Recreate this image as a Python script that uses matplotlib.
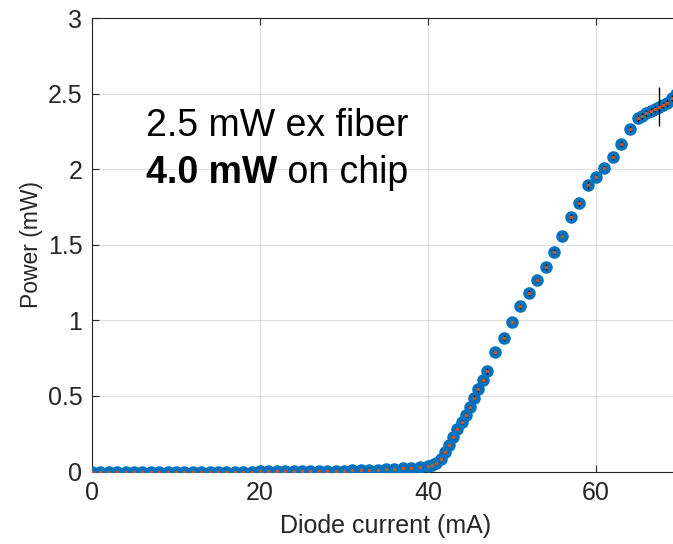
import numpy as np
import matplotlib.pyplot as plt

plt.rcParams['font.family'] = ['Liberation Sans', 'DejaVu Sans']

# diode current (mA)
current_low = [0, 1, 2, 3, 4, 5, 6, 7, 8, 9, 10, 11, 12, 13, 14, 15, 16, 17, 18, 19,
               20, 21, 22, 23, 24, 25, 26, 27, 28, 29, 30, 31, 32, 33, 34, 35, 36, 37, 38, 39, 40]
current_mid = [40.5, 41, 41.5, 42, 42.5, 43, 43.5, 44, 44.5, 45, 45.5, 46, 46.5, 47]
current_high = [48, 49, 50, 51, 52, 53, 54, 55, 56, 57, 58, 59, 60, 61, 62, 63, 64]
current_top = [65, 65.5, 66, 66.5, 67, 67.5, 68, 68.5, 69, 69.5]

# measured power (mW)
power_low = [0, 0, 0, 0, 0, 0, 0, 0, 0, 0, 0, 0, 0, 0, 0, 0, 0, 0, 0, 0,
             0.001, 0.001, 0.001, 0.002, 0.002, 0.002, 0.003, 0.003, 0.004, 0.005,
             0.006, 0.007, 0.008, 0.010, 0.012, 0.014, 0.017, 0.020, 0.025, 0.030, 0.037]
power_mid = [0.045, 0.055, 0.085, 0.13, 0.175, 0.228, 0.278, 0.327, 0.372, 0.426,
             0.488, 0.543, 0.603, 0.664]
power_high = [0.788, 0.886, 0.989, 1.093, 1.182, 1.265, 1.351, 1.454, 1.561, 1.684,
              1.777, 1.894, 1.949, 2.011, 2.081, 2.166, 2.263]
power_top = [2.336, 2.353, 2.369, 2.382, 2.395, 2.413, 2.424, 2.439, 2.468, 2.50]

# standard deviation (mW)
err_low = [0.002] * 41
err_mid = [0.003, 0.004, 0.006, 0.008, 0.008, 0.01, 0.01, 0.012, 0.012, 0.015,
           0.015, 0.015, 0.012, 0.02]
err_high = [0.012, 0.02, 0.008, 0.015, 0.02, 0.012, 0.02, 0.015, 0.008, 0.02,
            0.02, 0.025, 0.012, 0.012, 0.02, 0.02, 0.02]
err_top = [0.025, 0.02, 0.02, 0.025, 0.02, 0.13, 0.02, 0.025, 0.02, 0.02]

current = current_low + current_mid + current_high + current_top
power = power_low + power_mid + power_high + power_top
err = err_low + err_mid + err_high + err_top

blue = (0, 0.447, 0.741)
orange = (0.85, 0.325, 0.098)
grey = (0.15, 0.15, 0.15)

fig = plt.figure(figsize=(6.73, 5.44), dpi=100)
ax = fig.add_axes([92/673, 72.5/544, 588/673, 453.5/544])

ax.plot(current, power, 'o', color=blue, markersize=8, zorder=3)
ax.errorbar(current, power, yerr=err, fmt='none', ecolor='k', elinewidth=1, capsize=0, zorder=4)
ax.plot(current, power, '.', color=orange, markersize=3, zorder=5)

ax.set_xlim(0, 70)
ax.set_ylim(0, 3)
ax.set_xticks([0, 20, 40, 60])
ax.set_yticks([0, 0.5, 1, 1.5, 2, 2.5, 3])
ax.set_yticklabels(['0', '0.5', '1', '1.5', '2', '2.5', '3'])
ax.grid(True, color=grey, alpha=0.15, linewidth=0.8)
ax.set_axisbelow(True)
ax.tick_params(direction='in', top=True, right=True, length=5, width=0.8,
               labelsize=18, colors=grey, pad=7)
for s in ax.spines.values():
    s.set_color(grey)
    s.set_linewidth(0.8)

ax.set_xlabel('Diode current (mA)', fontsize=18, color=grey, labelpad=6)
ax.set_ylabel('Power (mW)', fontsize=16.5, color=grey, labelpad=3)

line1_y = 2.222
line2_y = 1.91
ax.text(6.4, line1_y, '2.5 mW ex fiber', fontsize=27, ha='left', va='baseline')
t = ax.text(6.4, line2_y, '4.0 mW', fontsize=27, fontweight='bold', ha='left', va='baseline')
fig.canvas.draw()
bb = t.get_window_extent()
x_end = ax.transData.inverted().transform((bb.x1, bb.y0))[0]
ax.text(x_end, line2_y, ' on chip', fontsize=27, ha='left', va='baseline')

fig.savefig('out.png', dpi=100)
